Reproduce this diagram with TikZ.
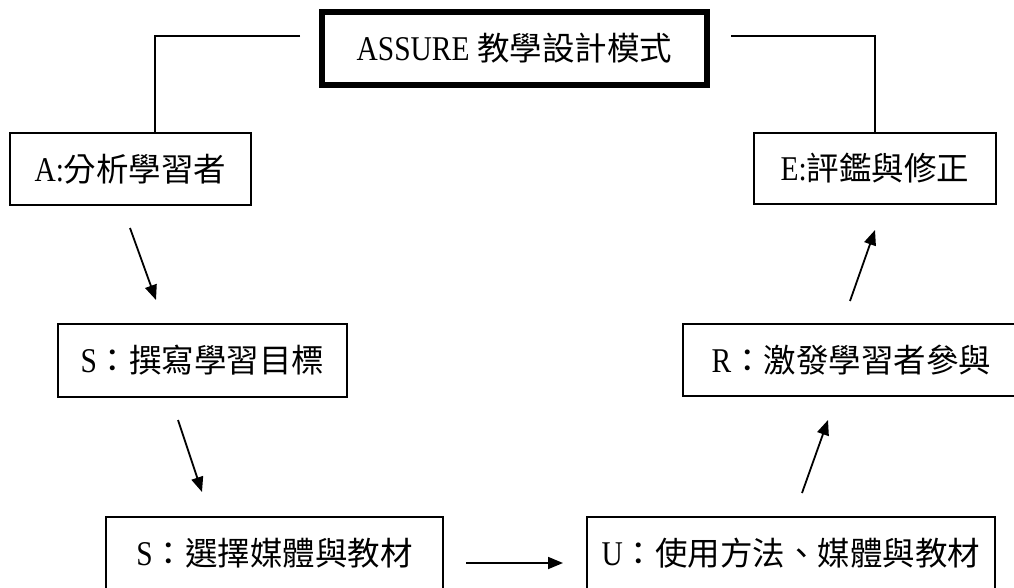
\documentclass[tikz,border=0pt]{standalone}
\usepackage{fontspec}
\setmainfont{Liberation Serif}
\newfontfamily\cjkfam{Noto Sans CJK TC}
\newcommand\cjk{\cjkfam\fontsize{32.5}{36}\selectfont}
\newcommand\lat[1]{\scalebox{0.95}[1.12]{#1}}
\usetikzlibrary{arrows.meta}
\tikzset{
  stepbox/.style={draw, line width=1.5pt, inner sep=0pt, font=\fontsize{31}{36}\selectfont},
  titlebox/.style={draw, line width=6pt, inner sep=0pt, font=\fontsize{31}{36}\selectfont},
  link/.style={line width=1.5pt},
  flow/.style={line width=1.8pt, -{Triangle[length=15pt,width=12pt]}}
}
\begin{document}
\begin{tikzpicture}[x=1pt,y=-1pt]
\clip (0,0) rectangle (1014,588);
\fill[white] (0,0) rectangle (1014,588);
% title
\node[titlebox, minimum width=385pt, minimum height=73pt] (T) at (514.5,48.5) {\lat{ASSURE} {\cjk 教學設計模式}\hspace{12pt}};
% step boxes
\node[stepbox, minimum width=241pt, minimum height=72pt] (A) at (130.5,169) {\lat{A:}{\cjk 分析學習者}};
\node[stepbox, minimum width=242pt, minimum height=71pt] (E) at (875,168.5) {\lat{E:}{\cjk 評鑑與修正}};
\node[stepbox, minimum width=289pt, minimum height=73pt] (S1) at (202.5,360.5) {\lat{S}{\cjk ：撰寫學習目標}};
\node[stepbox, minimum width=337pt, minimum height=72pt] (R) at (851.5,360) {\lat{R}{\cjk ：激發學習者參與}};
\node[stepbox, minimum width=337pt, minimum height=72pt] (S2) at (274.5,553) {\lat{S}{\cjk ：選擇媒體與教材}};
\node[stepbox, minimum width=408pt, minimum height=72pt] (U) at (791,553) {\lat{U}{\cjk ：使用方法、媒體與教材}};
% bracket lines from title
\coordinate (tl) at (300,36);
\coordinate (tlc) at (155,36);
\coordinate (tr) at (731,36);
\draw[link] (tl) -- (tlc) -- (tlc |- A.north);
\draw[link] (tr) -| (E.north);
% flow arrows
\coordinate (a1) at (130,228); \coordinate (a2) at (156,300);
\coordinate (b1) at (178,420); \coordinate (b2) at (202,492);
\coordinate (c1) at (466,563); \coordinate (c2) at (563,563);
\coordinate (d1) at (802,493); \coordinate (d2) at (828,420);
\coordinate (e1) at (850,301); \coordinate (e2) at (875,230);
\draw[flow] (a1) -- (a2);
\draw[flow] (b1) -- (b2);
\draw[flow] (c1) -- (c2);
\draw[flow] (d1) -- (d2);
\draw[flow] (e1) -- (e2);
\end{tikzpicture}
\end{document}
